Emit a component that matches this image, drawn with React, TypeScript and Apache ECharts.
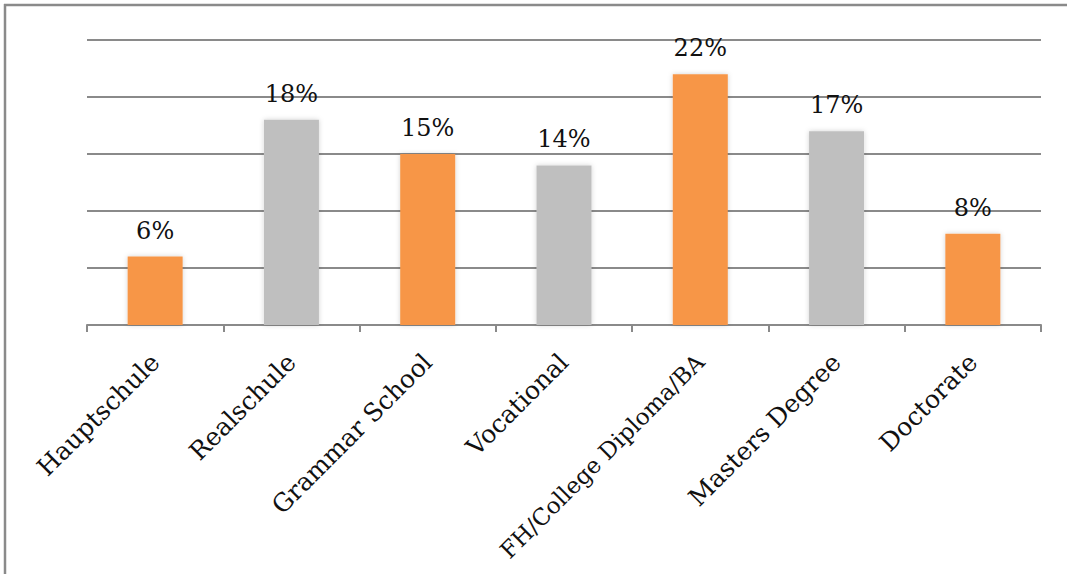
import React, { useEffect, useRef } from "react";
import * as echarts from "echarts";

const categories = [
  "Hauptschule",
  "Realschule",
  "Grammar School",
  "Vocational",
  "FH/College Diploma/BA",
  "Masters Degree",
  "Doctorate",
];
const shares = [6, 18, 15, 14, 22, 17, 8];
const barColors = ["#F79646", "#BFBFBF", "#F79646", "#BFBFBF", "#F79646", "#BFBFBF", "#F79646"];
const yTicks = { min: 0, max: 25, interval: 5 };

const LINE = "#8a8a8a";
const FONT = "'DejaVu Serif', serif";

// the longest category name gets a slightly smaller size so it stays inside the frame
const categoryData = categories.map((name) =>
  name.length > 18 ? { value: name, textStyle: { fontSize: 23 } } : name
);

export default function App() {
  const ref = useRef<HTMLDivElement>(null);

  useEffect(() => {
    if (!ref.current) return;
    const chart = echarts.init(ref.current, null, { renderer: "svg" });
    chart.setOption({
      animation: false,
      backgroundColor: "#ffffff",
      grid: { left: 87, right: 26, top: 40, bottom: 249, outerBoundsMode: "none" },
      xAxis: {
        type: "category",
        data: categoryData,
        boundaryGap: true,
        axisLine: { lineStyle: { color: LINE, width: 2 } },
        axisTick: { show: true, length: 7, lineStyle: { color: LINE, width: 2 } },
        axisLabel: {
          rotate: 45,
          margin: 33,
          interval: 0,
          color: "#111",
          fontFamily: FONT,
          fontSize: 25,
        },
      },
      yAxis: {
        type: "value",
        min: yTicks.min,
        max: yTicks.max,
        interval: yTicks.interval,
        axisLine: { show: false },
        axisTick: { show: false },
        axisLabel: { show: false },
        splitLine: { lineStyle: { color: LINE, width: 2 } },
      },
      series: [
        {
          type: "bar",
          barWidth: 55,
          data: shares.map((v, i) => ({
            value: v,
            itemStyle: {
              color: barColors[i],
              shadowBlur: 5,
              shadowColor: "rgba(0,0,0,0.18)",
            },
          })),
          label: {
            show: true,
            position: "top",
            distance: 14,
            formatter: (p: any) => `${p.value}%`,
            color: "#111",
            fontFamily: FONT,
            fontSize: 24,
          },
        },
      ],
      graphic: [
        {
          type: "line",
          shape: { x1: 4, y1: 5, x2: 1067, y2: 5 },
          style: { stroke: LINE, lineWidth: 2.5 },
          silent: true,
        },
        {
          type: "line",
          shape: { x1: 5, y1: 4, x2: 5, y2: 574 },
          style: { stroke: LINE, lineWidth: 2.5 },
          silent: true,
        },
      ],
    });
    return () => chart.dispose();
  }, []);

  return (
    <div
      ref={ref}
      style={{ position: "fixed", left: 0, top: 0, width: 1067, height: 574 }}
    />
  );
}
